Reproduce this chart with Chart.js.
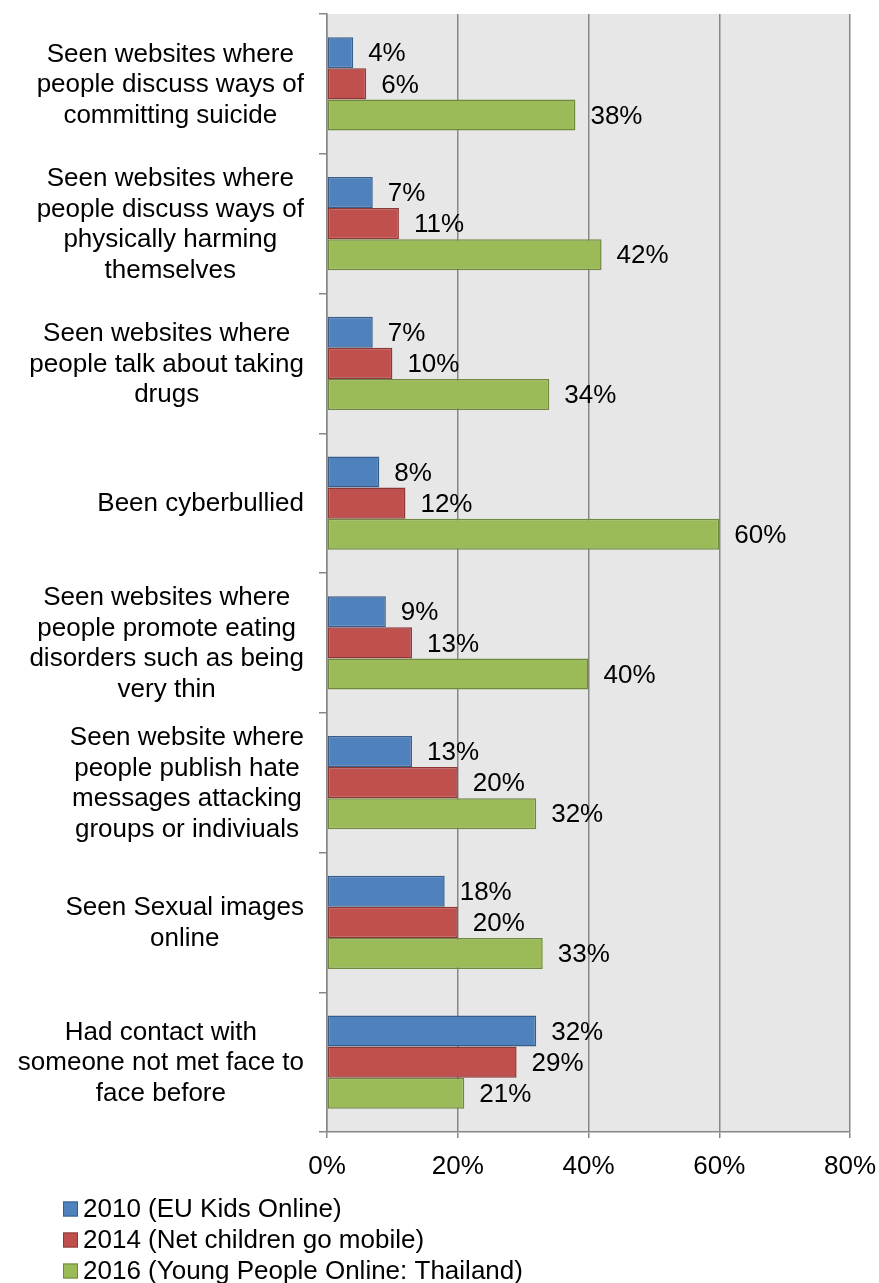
<!DOCTYPE html>
<html>
<head>
<meta charset="utf-8">
<script src="https://cdn.jsdelivr.net/npm/chart.js@4"></script>
<style>
  html, body { margin: 0; padding: 0; background: #ffffff; }
  #wrap { width: 879px; height: 1283px; position: relative; }
</style>
</head>
<body>
<div id="wrap"><canvas id="chart"></canvas></div>
<script>
// Online risk categories (each entry is a list of wrapped lines)
const categories = [
  ["Seen websites where", "people discuss ways of", "committing suicide"],
  ["Seen websites where", "people discuss ways of", "physically harming", "themselves"],
  ["Seen websites where", "people talk about taking", "drugs"],
  ["Been cyberbullied"],
  ["Seen websites where", "people promote eating", "disorders such as being", "very thin"],
  ["Seen website where", "people publish hate", "messages attacking", "groups or indiviuals"],
  ["Seen Sexual images", "online"],
  ["Had contact with", "someone not met face to", "face before"]
];

// Percentages per survey
const series2010 = [4, 7, 7, 8, 9, 13, 18, 32];
const series2014 = [6, 11, 10, 12, 13, 20, 20, 29];
const series2016 = [38, 42, 34, 60, 40, 32, 33, 21];

const seriesNames = [
  "2010 (EU Kids Online)",
  "2014 (Net children go mobile)",
  "2016 (Young People Online: Thailand)"
];

// Value axis ticks
const xTickValues = [0, 20, 40, 60, 80];

const FONT = '"Liberation Sans", Arial, sans-serif';
const GRID = '#878787';

// Grey plotting area
const plotBackground = {
  id: 'plotBackground',
  beforeDraw(chart) {
    const { ctx, chartArea: a } = chart;
    ctx.save();
    ctx.fillStyle = '#e7e7e7';
    ctx.fillRect(a.left, a.top, a.right - a.left, a.bottom - a.top);
    ctx.restore();
  }
};

// Category labels: each block centred on itself, block right-aligned to the axis
const categoryLabels = {
  id: 'categoryLabels',
  afterDraw(chart) {
    const { ctx } = chart;
    const y = chart.scales.y;
    const rightEdge = 304;
    const lineH = 30.5;
    ctx.save();
    ctx.font = '26px ' + FONT;
    ctx.fillStyle = '#000000';
    ctx.textAlign = 'center';
    ctx.textBaseline = 'middle';
    categories.forEach((lines, i) => {
      const widths = lines.map(l => ctx.measureText(l).width);
      const blockW = Math.max(...widths);
      const cx = rightEdge - blockW / 2;
      const cy = y.getPixelForValue(i);
      const startY = cy - (lines.length - 1) * lineH / 2;
      lines.forEach((l, k) => ctx.fillText(l, cx, startY + k * lineH + 1));
    });
    ctx.restore();
  }
};

// Value labels to the right of each bar
const valueLabels = {
  id: 'valueLabels',
  afterDatasetsDraw(chart) {
    const { ctx } = chart;
    ctx.save();
    ctx.font = '26px ' + FONT;
    ctx.fillStyle = '#000000';
    ctx.textAlign = 'left';
    ctx.textBaseline = 'middle';
    chart.data.datasets.forEach((ds, di) => {
      const meta = chart.getDatasetMeta(di);
      meta.data.forEach((bar, i) => {
        ctx.fillText(ds.data[i] + '%', bar.x + 15, bar.y + 1.5);
      });
    });
    ctx.restore();
  }
};

// Vertical legend below the axis
const stackedLegend = {
  id: 'stackedLegend',
  afterDraw(chart) {
    const { ctx } = chart;
    const rows = [1209, 1240, 1271];
    ctx.save();
    ctx.font = '26px ' + FONT;
    ctx.textBaseline = 'middle';
    ctx.textAlign = 'left';
    chart.data.datasets.forEach((ds, i) => {
      const cy = rows[i];
      ctx.fillStyle = ds.backgroundColor;
      ctx.fillRect(63, cy - 7.5, 15, 15);
      ctx.strokeStyle = ds.borderColor;
      ctx.lineWidth = 1;
      ctx.strokeRect(63.5, cy - 7, 14, 14);
      ctx.fillStyle = '#000000';
      ctx.fillText(ds.label, 83, cy + 1);
    });
    ctx.restore();
  }
};

new Chart(document.getElementById('chart'), {
  type: 'bar',
  data: {
    labels: categories.map(c => c.join(' ')),
    datasets: [
      { label: seriesNames[0], data: series2010, backgroundColor: '#4f81bd', borderColor: '#385d8a' },
      { label: seriesNames[1], data: series2014, backgroundColor: '#c0504d', borderColor: '#8c3836' },
      { label: seriesNames[2], data: series2016, backgroundColor: '#9bbb59', borderColor: '#71893f' }
    ]
  },
  options: {
    indexAxis: 'y',
    responsive: true,
    maintainAspectRatio: false,
    animation: false,
    layout: { padding: { left: 0, right: 29, top: 14, bottom: 91 } },
    datasets: {
      bar: {
        borderWidth: 1.5,
        borderSkipped: false,
        categoryPercentage: 2 / 3,
        barPercentage: 1.0
      }
    },
    plugins: {
      legend: { display: false },
      tooltip: { enabled: false }
    },
    scales: {
      x: {
        type: 'linear',
        min: 0,
        max: 80,
        afterBuildTicks(scale) {
          scale.ticks = xTickValues.map(v => ({ value: v }));
        },
        afterFit(scale) {
          scale.height = 60;
          scale.paddingLeft = 0;
          scale.paddingRight = 0;
        },
        ticks: {
          callback: v => v + '%',
          color: '#000000',
          padding: 13,
          font: { family: FONT, size: 26 }
        },
        grid: {
          color: GRID,
          lineWidth: 1.5,
          drawTicks: true,
          tickLength: 6
        },
        border: { color: GRID, width: 1.5 }
      },
      y: {
        type: 'category',
        afterFit(scale) { scale.width = 327; },
        ticks: { display: false },
        grid: {
          offset: true,
          drawOnChartArea: false,
          drawTicks: true,
          tickLength: 8,
          color: GRID,
          lineWidth: 1.5
        },
        border: { color: GRID, width: 1.5 }
      }
    }
  },
  plugins: [plotBackground, categoryLabels, valueLabels, stackedLegend]
});
</script>
</body>
</html>
